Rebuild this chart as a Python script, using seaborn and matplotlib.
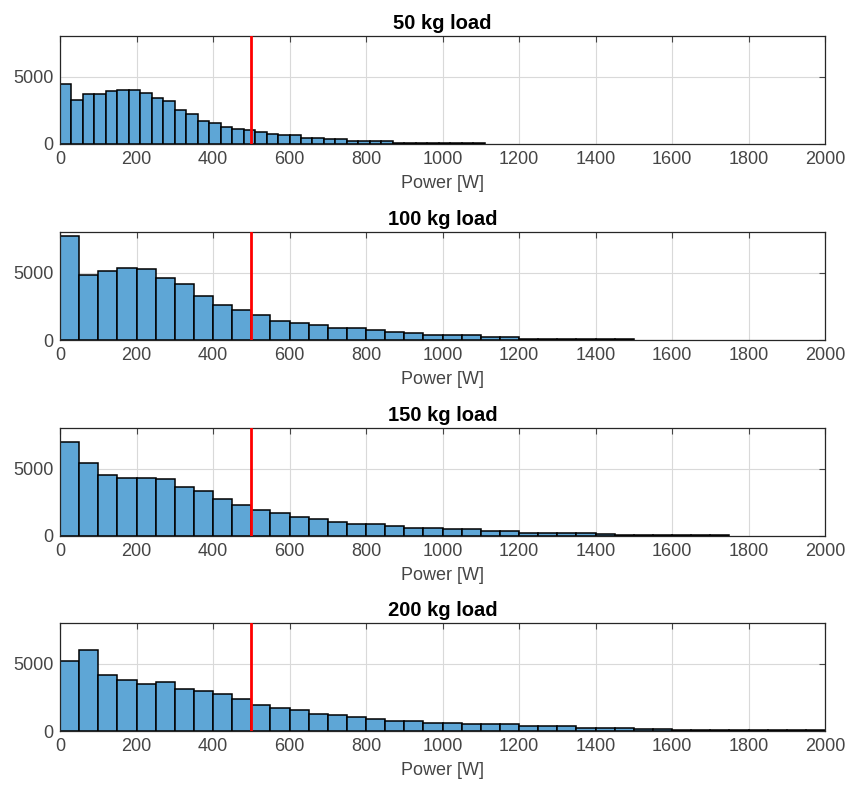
import numpy as np
import pandas as pd
import matplotlib
matplotlib.use("Agg")
import matplotlib.pyplot as plt
import seaborn as sns

titles = ["50 kg load", "100 kg load", "150 kg load", "200 kg load"]
bin_widths = [30, 50, 50, 50]
counts_50 = [4480, 3260, 3680, 3680, 3930, 4030, 4030, 3810, 3410, 3160,
             2510, 2240, 1690, 1540, 1290, 1140, 1020, 900, 750, 630,
             630, 480, 480, 340, 340, 230, 230, 210, 210,
             110, 100, 90, 90, 80, 80, 70, 70]
counts_100 = [7740, 4850, 5100, 5350, 5270, 4600, 4150, 3260, 2610, 2210,
              1820, 1390, 1270, 1140, 880, 880,
              750, 620, 500, 370, 370, 370, 250, 250,
              110, 100, 90, 90, 80, 70]
counts_150 = [6980, 5380, 4530, 4330, 4330, 4200, 3650, 3300, 2750, 2330,
              1950, 1700, 1400, 1250, 1070, 900,
              900, 750, 620, 620, 550, 550, 400, 400, 250, 250, 250, 250,
              120, 110, 110, 100, 90, 90, 80]
counts_200 = [5220, 5990, 4160, 3790, 3490, 3660, 3120, 3000, 2720, 2350,
              1930, 1680, 1560, 1260,
              1160, 1020, 870, 720, 720, 620, 620, 500, 500, 500, 370, 370, 370,
              220, 220, 220, 180, 180,
              100, 100, 90, 90, 80, 80, 80, 70]
all_counts = [counts_50, counts_100, counts_150, counts_200]
threshold = 500
xticks = list(range(0, 2001, 200))
yticks = [0, 5000]

sns.set_theme(style="white")
plt.rcParams['font.family'] = ['Liberation Sans', 'DejaVu Sans']

fig = plt.figure(figsize=(8.5, 7.87), dpi=100)
W, H = 850, 787
bar_color = (0.37, 0.65, 0.84)
gray = '#454545'

bottoms_px = [144, 340, 536, 731]
for i, (title, bw, counts) in enumerate(zip(titles, bin_widths, all_counts)):
    b = bottoms_px[i]
    ax = fig.add_axes([60 / W, 1 - b / H, 765 / W, 108 / H])
    counts = np.array(counts, dtype=float)
    edges = np.arange(len(counts) + 1) * bw
    centers = (edges[:-1] + edges[1:]) / 2
    df = pd.DataFrame({"power": centers, "count": counts})
    sns.histplot(data=df, x="power", weights="count", bins=[float(e) for e in edges],
                 ax=ax, color=bar_color, edgecolor='black', linewidth=1.1, alpha=1.0)
    ax.axvline(threshold, color='red', linewidth=2, zorder=5)
    ax.set_xlim(0, 2000)
    ax.set_ylim(0, 8000)
    ax.set_xticks(xticks)
    ax.set_yticks(yticks)
    ax.set_ylabel("")
    ax.set_xlabel("Power [W]", fontsize=13, color=gray, labelpad=5)
    ax.set_title(title, fontsize=14.5, fontweight='bold', color='black', pad=5)
    ax.grid(True, color='#d9d9d9', linewidth=0.8)
    ax.set_axisbelow(True)
    ax.tick_params(direction='in', top=True, right=True, length=4, width=0.8,
                   colors=gray, labelsize=13)
    ax.tick_params(axis='x', pad=5)
    ax.tick_params(axis='y', pad=4.5)
    for s in ax.spines.values():
        s.set_visible(True)
        s.set_color('#262626')
        s.set_linewidth(0.9)

fig.savefig("out.png", dpi=100, facecolor='white')
